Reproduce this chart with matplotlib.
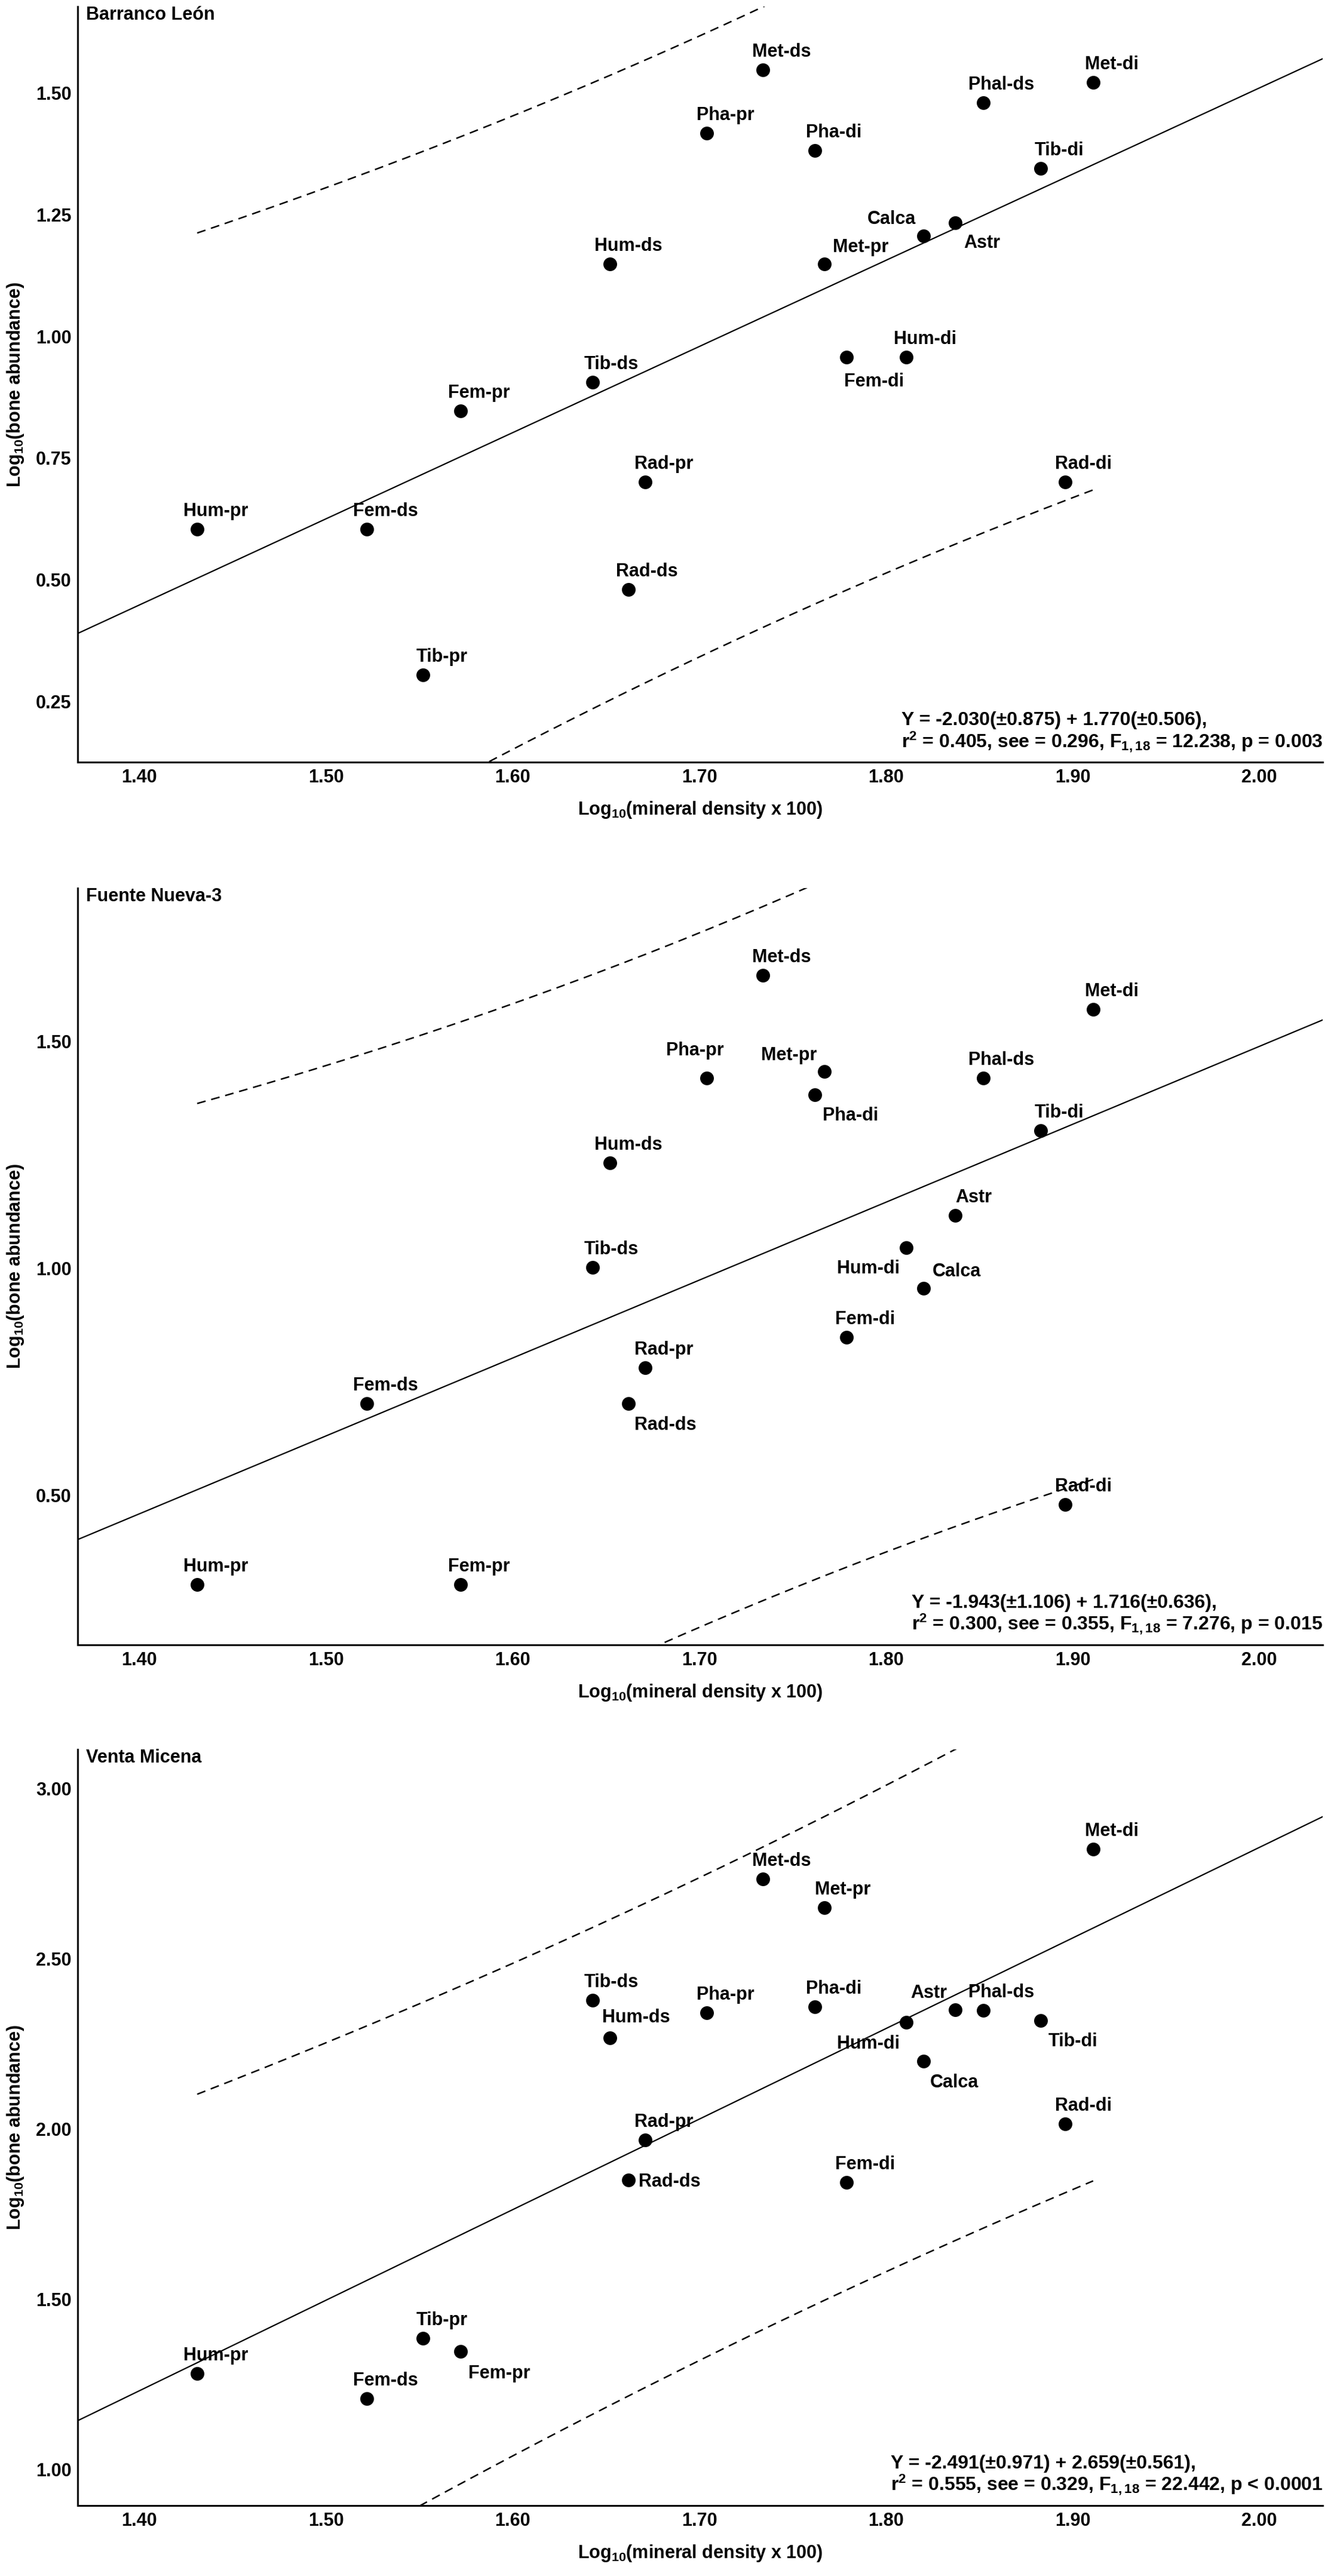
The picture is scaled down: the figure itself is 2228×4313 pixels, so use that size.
import numpy as np
import matplotlib
matplotlib.use("Agg")
import matplotlib.pyplot as plt

plt.rcParams.update({
    "font.family": "Liberation Sans",
    "font.weight": "bold",
    "axes.labelweight": "bold",
    "mathtext.fontset": "custom",
    "mathtext.rm": "Liberation Sans:bold",
    "mathtext.it": "Liberation Sans:bold",
    "mathtext.bf": "Liberation Sans:bold",
    "mathtext.default": "bf",
    "lines.scale_dashes": False,
})

# skeletal elements, same order in every array below
ELEMENTS = ["Hum-pr", "Fem-ds", "Tib-pr", "Fem-pr", "Tib-ds", "Hum-ds", "Rad-ds",
            "Rad-pr", "Pha-pr", "Met-ds", "Pha-di", "Met-pr", "Fem-di", "Hum-di",
            "Calca", "Astr", "Phal-ds", "Tib-di", "Rad-di", "Met-di"]
DENSITY = [1.431, 1.522, 1.552, 1.572, 1.643, 1.652, 1.662, 1.671, 1.704, 1.734,
           1.762, 1.767, 1.779, 1.811, 1.820, 1.837, 1.852, 1.883, 1.896, 1.911]

BL_ABUND = [0.604, 0.604, 0.304, 0.847, 0.906, 1.149, 0.480, 0.701, 1.417, 1.547,
            1.382, 1.149, 0.957, 0.957, 1.206, 1.233, 1.480, 1.345, 0.701, 1.521]
# Tib-pr is not visible in the Fuente Nueva-3 panel
FN3_ABUND = [0.304, 0.702, np.nan, 0.304, 1.002, 1.232, 0.702, 0.781, 1.419, 1.646,
             1.383, 1.434, 0.848, 1.045, 0.956, 1.117, 1.419, 1.304, 0.480, 1.571]
VM_ABUND = [1.283, 1.208, 1.385, 1.348, 2.379, 2.267, 1.850, 1.968, 2.341, 2.735,
            2.359, 2.651, 1.843, 2.314, 2.199, 2.351, 2.349, 2.318, 2.016, 2.822]

SITES = ["Barranco León", "Fuente Nueva-3", "Venta Micena"]
INTERCEPTS = [-2.030, -1.943, -2.491]
SLOPES = [1.770, 1.716, 2.659]
SEES = [0.296, 0.355, 0.329]
T_975 = 2.101  # t(0.975, 18)

EQ_LINES = ["Y = -2.030(±0.875) + 1.770(±0.506),",
            "Y = -1.943(±1.106) + 1.716(±0.636),",
            "Y = -2.491(±0.971) + 2.659(±0.561),"]
STAT_LINES = ["r$^{2}$ = 0.405, see = 0.296, F$_{1,18}$ = 12.238, p = 0.003",
              "r$^{2}$ = 0.300, see = 0.355, F$_{1,18}$ = 7.276, p = 0.015",
              "r$^{2}$ = 0.555, see = 0.329, F$_{1,18}$ = 22.442, p < 0.0001"]

XTICKS = [1.40, 1.50, 1.60, 1.70, 1.80, 1.90, 2.00]
YTICKS = [[0.25, 0.50, 0.75, 1.00, 1.25, 1.50],
          [0.50, 1.00, 1.50],
          [1.00, 1.50, 2.00, 2.50, 3.00]]
XLIM = (1.367, 2.034)
YLIMS = [(0.125, 1.677), (0.171, 1.838), (0.895, 3.115)]

# label offsets in pixels (dx, dy to baseline, ha); default is above-right
LABEL_DEFAULT = (31, 22, "center")
LABEL_MOVES = [
    {"Met-pr": (61, 20, "center"), "Calca": (-53, 20, "center"),
     "Astr": (45, -42, "center"), "Fem-di": (46, -49, "center")},
    {"Pha-pr": (-20, 38, "center"), "Met-pr": (-59, 19, "center"),
     "Pha-di": (59, -43, "center"), "Hum-di": (-64, -43, "center"),
     "Calca": (56, 20, "center"), "Rad-ds": (62, -44, "center")},
    {"Fem-pr": (65, -45, "center"), "Hum-ds": (44, 26, "center"),
     "Rad-ds": (17, -11, "left"), "Astr": (-44, 20, "center"),
     "Hum-di": (-64, -44, "center"), "Tib-di": (54, -43, "center"),
     "Calca": (52, -44, "center")},
]

AX_RECTS = [(0.0584, 0.7041, 0.9354, 0.2933),
            (0.0584, 0.3615, 0.9354, 0.2938),
            (0.0584, 0.0274, 0.9354, 0.2935)]

FS = 22


def draw_panel(ax, i, abund):
    x = np.array(DENSITY)
    y = np.array(abund, dtype=float)
    a, b, see = INTERCEPTS[i], SLOPES[i], SEES[i]

    # fitted line over the full axis
    xr = np.array(XLIM)
    ax.plot(xr, a + b * xr, color="black", lw=1.6)

    # 95% prediction limits over the data range
    n = len(x)
    xbar = x.mean()
    sxx = ((x - xbar) ** 2).sum()
    xs = np.linspace(x.min(), x.max(), 200)
    half = T_975 * see * np.sqrt(1 + 1 / n + (xs - xbar) ** 2 / sxx)
    for sign in (1, -1):
        ax.plot(xs, a + b * xs + sign * half, color="black", lw=1.8,
                dashes=(10.5, 7))

    ax.plot(x, y, "o", color="black", ms=15.5, zorder=3)

    moves = LABEL_MOVES[i]
    for name, xi, yi in zip(ELEMENTS, x, y):
        if np.isnan(yi):
            continue
        dx, dy, ha = moves.get(name, LABEL_DEFAULT)
        ax.annotate(name, (xi, yi), xytext=(dx, dy), textcoords="offset pixels",
                    ha=ha, va="baseline", fontsize=FS)

    ax.set_xlim(*XLIM)
    ax.set_ylim(*YLIMS[i])
    ax.set_xticks(XTICKS)
    ax.set_yticks(YTICKS[i])
    ax.set_xticklabels([f"{v:.2f}" for v in XTICKS])
    ax.set_yticklabels([f"{v:.2f}" for v in YTICKS[i]])
    ax.tick_params(axis="both", length=0, labelsize=FS)
    ax.tick_params(axis="x", pad=8)
    ax.tick_params(axis="y", pad=7.5)
    for side in ("top", "right"):
        ax.spines[side].set_visible(False)
    for side in ("left", "bottom"):
        ax.spines[side].set_linewidth(2.2)

    ax.set_xlabel("Log$_{10}$(mineral density x 100)", fontsize=FS)
    ax.set_ylabel("Log$_{10}$(bone abundance)", fontsize=FS)
    ax.xaxis.set_label_coords(0.5, -0.050)
    ax.yaxis.set_label_coords(-0.042, 0.5)

    ax.annotate(SITES[i], (0, 1), xycoords="axes fraction", xytext=(14, 1),
                textcoords="offset pixels", ha="left", va="top", fontsize=FS)

    stats = ax.annotate(STAT_LINES[i], (1, 0), xycoords="axes fraction",
                        xytext=(0, 25), textcoords="offset pixels",
                        ha="right", va="baseline", fontsize=23)
    ax.annotate(EQ_LINES[i], (0, 0), xycoords=(stats, "axes fraction"),
                xytext=(0, 62), textcoords="offset pixels",
                ha="left", va="baseline", fontsize=23)


fig = plt.figure(figsize=(22.28, 43.13), dpi=100)
for i, abund in enumerate([BL_ABUND, FN3_ABUND, VM_ABUND]):
    ax = fig.add_axes(AX_RECTS[i])
    draw_panel(ax, i, abund)

fig.savefig("out.png", dpi=100)
